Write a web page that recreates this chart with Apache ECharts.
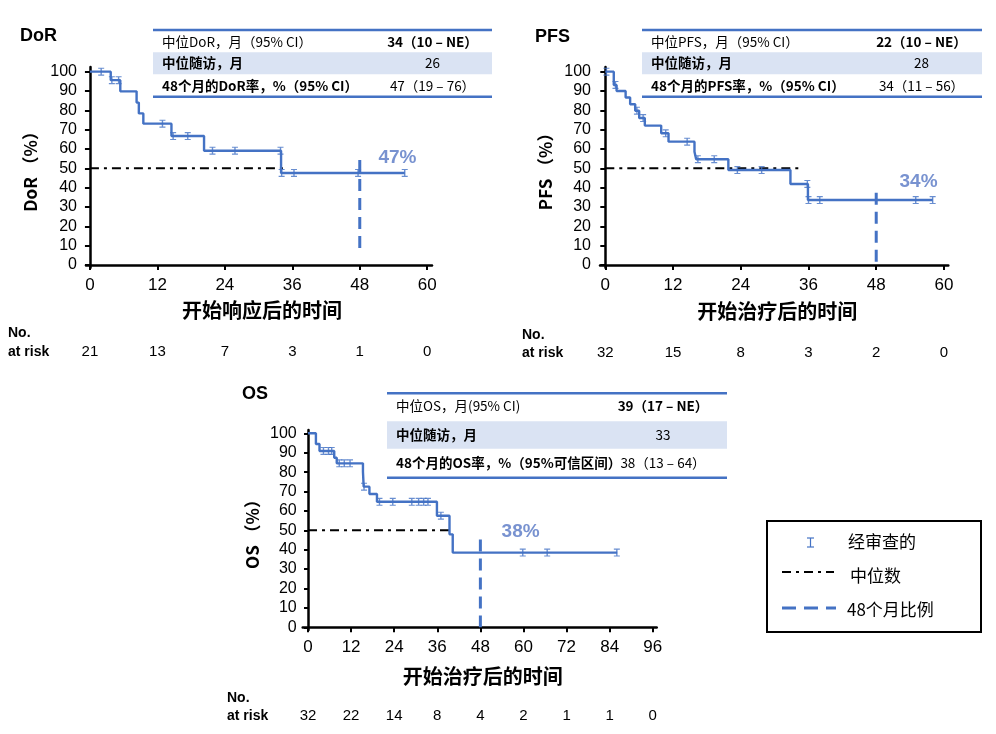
<!DOCTYPE html>
<html><head><meta charset="utf-8">
<script src="https://cdn.jsdelivr.net/npm/echarts@6/dist/echarts.min.js"></script>
<style>html,body{margin:0;padding:0;background:#fff}#c{width:996px;height:734px}</style>
</head><body><div id="c"></div>
<script>
// ---------- DATA ----------
const dorTime = [0, 3.7, 5.4, 8.3, 8.7, 9.5, 14.5, 20.3, 34.0, 56.0];
const dorSurv = [100, 95.6, 89.8, 84.0, 78.4, 73.1, 66.7, 59.1, 47.6, 47.6];
const dorCensT = [2.0, 3.9, 5.1, 12.9, 14.8, 17.4, 21.8, 25.8, 33.9, 34.1, 36.3, 47.7, 56.0];
const dorCensS = [100, 95.6, 95.6, 73.1, 66.7, 66.7, 59.1, 59.1, 59.1, 47.6, 47.6, 47.6, 47.6];
const dorMedianEnd = 35.1;

const pfsTime = [0, 1.5, 2.0, 3.6, 4.4, 5.3, 6.0, 7.0, 9.9, 11.2, 15.8, 16.1, 21.8, 32.8, 35.9, 58.0];
const pfsSurv = [100, 93.1, 90.0, 86.6, 83.1, 79.8, 76.0, 72.1, 68.1, 63.8, 58.6, 54.7, 49.1, 41.9, 33.6, 33.6];
const pfsCensT = [0.2, 1.8, 5.6, 6.7, 10.7, 14.5, 16.4, 19.3, 23.4, 27.7, 35.8, 36.0, 38.0, 55.0, 58.0];
const pfsCensS = [100, 93.1, 79.8, 76.0, 68.1, 63.8, 54.7, 54.7, 49.1, 49.1, 41.9, 33.6, 33.6, 33.6, 33.6];
const pfsMedianEnd = 34.8;

const osTime = [0, 2.2, 3.2, 7.3, 8.0, 15.3, 15.5, 17.1, 19.2, 35.9, 39.4, 40.3, 86.1];
const osSurv = [100, 94.5, 90.9, 87.4, 84.5, 80.2, 72.5, 68.7, 64.7, 57.5, 47.9, 38.5, 38.5];
const osCensT = [4.3, 5.7, 6.6, 8.7, 10.1, 11.7, 15.6, 19.9, 23.6, 28.9, 30.8, 32.2, 33.4, 37.0, 59.8, 66.6, 86.0];
const osCensS = [90.9, 90.9, 90.9, 84.5, 84.5, 84.5, 72.5, 64.7, 64.7, 64.7, 64.7, 64.7, 64.7, 57.5, 38.5, 38.5, 38.5];
const osMedianEnd = 39.6;

const rate48 = [47, 34, 38];
const dash48Top = [54.3, 37.4, 45.2];
const dash48Bottom = [5.2, 0, 0];

const ticks60 = [0, 12, 24, 36, 48, 60];
const ticks96 = [0, 12, 24, 36, 48, 60, 72, 84, 96];
const yTicks = [0, 10, 20, 30, 40, 50, 60, 70, 80, 90, 100];

const dorAtRisk = [21, 13, 7, 3, 1, 0];
const pfsAtRisk = [32, 15, 8, 3, 2, 0];
const osAtRisk = [32, 22, 14, 8, 4, 2, 1, 1, 0];

const panelTitles = ['DoR', 'PFS', 'OS'];
const yNames = ['DoR （%）', 'PFS （%）', 'OS （%）'];
const xNames = ['开始响应后的时间', '开始治疗后的时间', '开始治疗后的时间'];

const dorTableLabels = ['中位DoR，月（95% CI）', '中位随访，月', '48个月的DoR率，%（95% CI）'];
const dorTableValues = ['34（10 – NE）', '26', '47（19 – 76）'];
const pfsTableLabels = ['中位PFS，月（95% CI）', '中位随访，月', '48个月的PFS率，%（95% CI）'];
const pfsTableValues = ['22（10 – NE）', '28', '34（11 – 56）'];
const osTableLabels = ['中位OS，月(95% CI)', '中位随访，月', '48个月的OS率，%（95%可信区间）'];
const osTableValues = ['39（17 – NE）', '33', '38（13 – 64）'];

const legendLabels = ['经审查的', '中位数', '48个月比例'];

// ---------- STYLE ----------
const BLUE = '#4472C4';
const LBLUE = '#5677C4';
const SHADE = '#DAE3F3';
const NUMF = 'Liberation Sans, Arial, sans-serif';
const CJK = '"Noto Sans CJK SC", sans-serif';
const IBEAM = 'path://M0,0 H6 V1.4 H3.7 V8.6 H6 V10 H0 V8.6 H2.3 V1.4 H0 Z';

const chart = echarts.init(document.getElementById('c'), null, {renderer: 'canvas'});

const grids = [
  {left: 86, top: 67, width: 346, height: 200.7},
  {left: 600, top: 67, width: 348.3, height: 200.7},
  {left: 302.7, top: 430, width: 354, height: 200}
];
const xRanges = [[-0.7, 60.85], [-0.94, 60.77], [-1.48, 97.1]];
const yRanges = [[-1.4, 102.4], [-1.4, 102.4], [-1.4, 101.7]];
const yNameGap = [47, 46, 42];
const xNameGap = [33, 34, 36];
const yLabelMargin = [9, 9, 6];
const yTickLen = [5, 5, 4];
const labelPos = [[54.7, 55.3], [55.5, 42.8], [59.2, 49.0]];

const kmT = [dorTime, pfsTime, osTime], kmS = [dorSurv, pfsSurv, osSurv];
const cT = [dorCensT, pfsCensT, osCensT], cS = [dorCensS, pfsCensS, osCensS];
const medEnd = [dorMedianEnd, pfsMedianEnd, osMedianEnd];
const xTicksList = [ticks60, ticks60, ticks96];

const xAxes = [], yAxes = [], series = [];
for (let i = 0; i < 3; i++) {
  xAxes.push({
    gridIndex: i, type: 'value', min: xRanges[i][0], max: xRanges[i][1],
    splitLine: {show: false},
    axisLine: {show: true, lineStyle: {color: '#000', width: 2.5}},
    axisTick: {show: true, customValues: xTicksList[i], length: 5, lineStyle: {color: '#000', width: 2}},
    axisLabel: {customValues: xTicksList[i], fontSize: 17, color: '#000', fontFamily: NUMF, margin: 9},
    name: xNames[i], nameLocation: 'middle', nameGap: xNameGap[i],
    nameTextStyle: {fontSize: 20, fontWeight: 'bold', color: '#000', fontFamily: CJK, padding: [0, 0, 0, 6]}
  });
  yAxes.push({
    gridIndex: i, type: 'value', min: yRanges[i][0], max: yRanges[i][1],
    splitLine: {show: false},
    axisLine: {show: true, lineStyle: {color: '#000', width: 2.5}},
    axisTick: {show: true, customValues: yTicks, length: yTickLen[i], lineStyle: {color: '#000', width: 2}},
    axisLabel: {customValues: yTicks, fontSize: 16, color: '#000', fontFamily: NUMF, margin: yLabelMargin[i]},
    name: yNames[i], nameLocation: 'middle', nameGap: yNameGap[i], nameRotate: 90,
    nameTextStyle: {fontSize: 17, fontWeight: 'bold', color: '#000', fontFamily: CJK}
  });
  series.push({
    type: 'line', xAxisIndex: i, yAxisIndex: i, step: 'end', symbol: 'none', z: 3,
    lineStyle: {color: BLUE, width: 2.4},
    data: kmT[i].map((t, k) => [t, kmS[i][k]])
  });
  series.push({
    type: 'scatter', xAxisIndex: i, yAxisIndex: i, symbol: IBEAM, symbolSize: [6, 8], z: 4,
    itemStyle: {color: BLUE},
    data: cT[i].map((t, k) => [t, cS[i][k]])
  });
  series.push({
    type: 'line', xAxisIndex: i, yAxisIndex: i, symbol: 'none', z: 2,
    lineStyle: {color: '#000', width: 2, type: [9, 5, 3, 5]},
    data: [[0, 50], [medEnd[i], 50]]
  });
  series.push({
    type: 'line', xAxisIndex: i, yAxisIndex: i, symbol: 'none', z: 2,
    lineStyle: {color: BLUE, width: 3, type: [12, 7]},
    data: [[48, dash48Top[i]], [48, dash48Bottom[i]]]
  });
  series.push({
    type: 'scatter', xAxisIndex: i, yAxisIndex: i, symbolSize: 0, z: 5,
    label: {show: true, position: 'inside', formatter: rate48[i] + '%', fontSize: 19, fontWeight: 'bold', color: LBLUE, fontFamily: NUMF},
    data: [labelPos[i]]
  });
}

const titles = [
  {text: panelTitles[0], left: 20, top: 27},
  {text: panelTitles[1], left: 535, top: 28},
  {text: panelTitles[2], left: 242, top: 385}
].map(t => Object.assign(t, {padding: 0, textStyle: {fontSize: 18, fontWeight: 'bold', color: '#000', fontFamily: NUMF}}));

chart.setOption({
  animation: false,
  backgroundColor: '#fff',
  title: titles,
  grid: grids,
  xAxis: xAxes,
  yAxis: yAxes,
  series: series
});

// ---------- graphics: tables, legend, at-risk ----------
const g = [];
function txt(x, y, s, opt) {
  g.push({type: 'text', x: x, y: y, silent: true, style: Object.assign({
    text: s, fill: '#000', font: '13.5px ' + CJK, textAlign: 'left', textVerticalAlign: 'middle'
  }, opt || {})});
}
function table(x0, x1, top, shadeTop, shadeBot, bottom, rowsY, labels, values, valX) {
  g.push({type: 'rect', shape: {x: x0, y: shadeTop, width: x1 - x0, height: shadeBot - shadeTop}, style: {fill: SHADE}, silent: true});
  g.push({type: 'line', shape: {x1: x0, y1: top, x2: x1, y2: top}, style: {stroke: BLUE, lineWidth: 2.5}, silent: true});
  g.push({type: 'line', shape: {x1: x0, y1: bottom, x2: x1, y2: bottom}, style: {stroke: BLUE, lineWidth: 2.5}, silent: true});
  for (let r = 0; r < 3; r++) {
    txt(x0 + 9, rowsY[r], labels[r], {font: (r === 0 ? 'normal ' : 'bold ') + '13.5px ' + CJK});
    txt(valX, rowsY[r], values[r], {textAlign: 'center', font: (r === 0 ? 'bold ' : 'normal ') + '13.5px ' + CJK});
  }
}
table(153, 492, 30, 52.3, 74.3, 96.7, [41.7, 63.3, 86], dorTableLabels, dorTableValues, 432.5);
table(642, 982, 30, 52.3, 74.3, 96.7, [41.7, 63.3, 86], pfsTableLabels, pfsTableValues, 921.5);
table(387, 727, 393.3, 421.3, 448.7, 477.7, [406, 435, 462.7], osTableLabels, osTableValues, 663);

// legend
g.push({type: 'rect', shape: {x: 767, y: 521, width: 214, height: 111}, style: {fill: '#fff', stroke: '#000', lineWidth: 2}, silent: true});
g.push({type: 'polyline', shape: {points: [[807, 538], [814, 538]]}, style: {stroke: BLUE, lineWidth: 1.2}, silent: true});
g.push({type: 'polyline', shape: {points: [[807, 547], [814, 547]]}, style: {stroke: BLUE, lineWidth: 1.2}, silent: true});
g.push({type: 'polyline', shape: {points: [[810.5, 538], [810.5, 547]]}, style: {stroke: BLUE, lineWidth: 1.2}, silent: true});
g.push({type: 'line', shape: {x1: 782, y1: 572, x2: 834, y2: 572}, style: {stroke: '#000', lineWidth: 2, lineDash: [9, 5, 3, 5]}, silent: true});
g.push({type: 'line', shape: {x1: 782, y1: 608, x2: 836, y2: 608}, style: {stroke: BLUE, lineWidth: 3, lineDash: [14, 8]}, silent: true});
txt(848, 542, legendLabels[0], {font: '17px ' + CJK});
txt(850, 576, legendLabels[1], {font: '17px ' + CJK});
txt(847, 610, legendLabels[2], {font: '17px ' + CJK});

// at risk
const atRisk = [dorAtRisk, pfsAtRisk, osAtRisk];
const riskLabelX = [8, 522, 227];
const noY = [333, 335, 698];
const riskY = [352, 353, 716];
for (let i = 0; i < 3; i++) {
  txt(riskLabelX[i], noY[i], 'No.', {font: 'bold 14px ' + NUMF});
  txt(riskLabelX[i], riskY[i], 'at risk', {font: 'bold 14px ' + NUMF});
  xTicksList[i].forEach((t, k) => {
    const px = chart.convertToPixel({xAxisIndex: i}, t);
    txt(px, riskY[i], String(atRisk[i][k]), {textAlign: 'center', font: '15px ' + NUMF});
  });
}
chart.setOption({graphic: g});
</script>
</body></html>
